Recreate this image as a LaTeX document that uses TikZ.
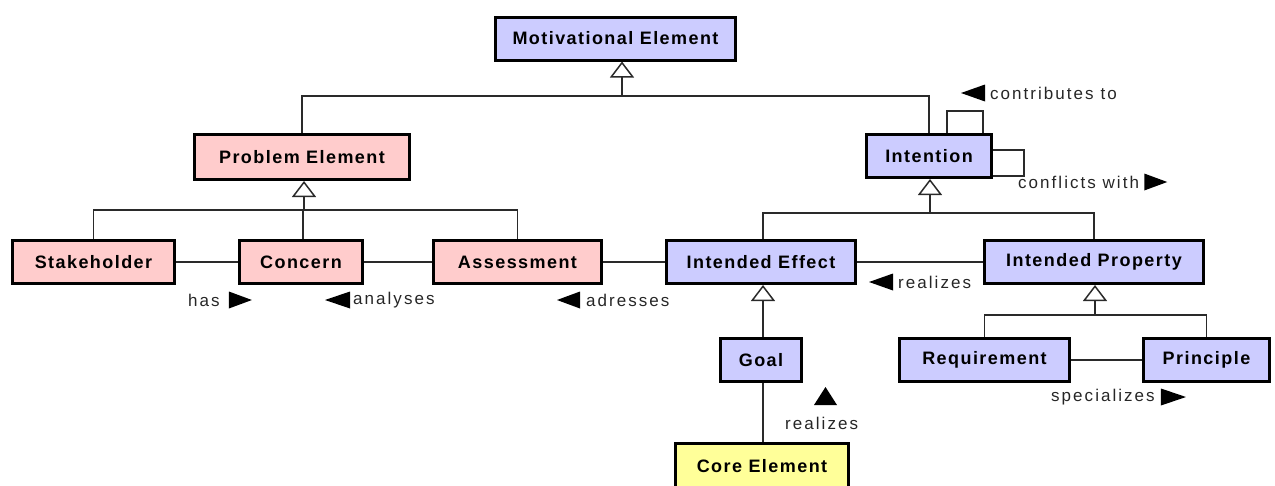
\documentclass[tikz,border=0pt]{standalone}
\usepackage{fontspec}
\setmainfont{Liberation Sans}
\newfontfamily\boxfont[LetterSpace=8]{Liberation Sans}
\newfontfamily\lblfont[LetterSpace=12]{Liberation Sans}
\usetikzlibrary{arrows.meta}
\definecolor{pinkfill}{HTML}{FFCCCC}
\definecolor{bluefill}{HTML}{CCCCFF}
\definecolor{yellowfill}{HTML}{FFFF99}
\definecolor{linegray}{HTML}{2A2A2A}
\begin{document}
\begin{tikzpicture}[x=1pt,y=-1pt,
  box/.style={draw=black, line width=3pt, inner sep=0pt, minimum height=43pt,
    font=\boxfont\bfseries\fontsize{18}{20}\selectfont},
  problem/.style={box, fill=pinkfill},
  motive/.style={box, fill=bluefill},
  core/.style={box, fill=yellowfill},
  link/.style={draw=linegray, line width=1.5pt},
  gen/.style={link, -{Triangle[open, length=16pt, width=24pt, line width=1.5pt]}},
  lbl/.style={font=\lblfont\fontsize{17}{19}\selectfont, inner sep=0pt, text=black!85},
  dirmark/.style={fill=black}
]
\useasboundingbox (0,0) rectangle (1275,485);

% classes
\node[motive, minimum width=240pt] (mot) at (615.5,38.5) {Motivational Element};
\node[problem, minimum width=215pt, minimum height=45pt] (prob) at (302,157) {Problem Element};
\node[motive, minimum width=125pt] (intn) at (929,156) {Intention};
\node[problem, minimum width=162pt] (stake) at (93.5,262) {Stakeholder};
\node[problem, minimum width=123pt] (conc) at (301,262) {Concern};
\node[problem, minimum width=168pt] (assess) at (517.5,262) {Assessment};
\node[motive, minimum width=189pt] (ieff) at (761,262) {Intended Effect};
\node[motive, minimum width=219pt] (iprop) at (1094,262) {Intended Property};
\node[motive, minimum width=81pt] (goal) at (761,360) {Goal};
\node[core, minimum width=173pt, minimum height=46pt] (core) at (762,466) {Core Element};
\node[motive, minimum width=170pt] (req) at (984.5,360) {Requirement};
\node[motive, minimum width=126pt] (prin) at (1206.5,360) {Principle};

% generalization: Motivational Element
\coordinate (barM) at (622,96);
\draw[link] (prob.north) |- (barM) -| (intn.north);
\draw[gen] (barM) -- (barM |- mot.south);

% self associations of Intention
\draw[link] ([xshift=18pt]intn.north) -- ++(0,-22) -| ([xshift=54pt]intn.north);
\draw[link] ([yshift=6pt]intn.east) -- ++(31,0) |- ([yshift=-20pt]intn.east);

% generalization: Problem Element
\coordinate (barP) at (304,210);
\draw[link] (stake.north) |- (barP) -| (assess.north);
\draw[link] ([xshift=2pt]conc.north) -- ([xshift=2pt]conc.north |- barP);
\draw[gen] (barP) -- (barP |- prob.south);

% generalization: Intention
\coordinate (barI) at (930,213);
\draw[link] ([xshift=2pt]ieff.north) |- (barI) -| (iprop.north);
\draw[gen] (barI) -- (barI |- intn.south);

% generalization: Intended Effect
\draw[gen] ([xshift=2pt]goal.north) -- ([xshift=2pt]ieff.south);
\draw[link] ([xshift=2pt]goal.south) -- ([xshift=2pt]goal.south |- core.north);

% generalization: Intended Property
\coordinate (barR) at (1095,315);
\draw[link] (req.north) |- (barR) -| (prin.north);
\draw[gen] (barR) -- (barR |- iprop.south);

% associations
\draw[link] (stake) -- (conc);
\draw[link] (conc) -- (assess);
\draw[link] (assess) -- (ieff);
\draw[link] (ieff) -- (iprop);
\draw[link] (req) -- (prin);

% association labels with direction marks
\node[lbl, anchor=west] (lContrib) at (990,93) {contributes to};
\fill[dirmark] ([xshift=-29pt]lContrib.west) -- ++(24,-8.5) -- ++(0,17) -- cycle;

\node[lbl, anchor=west] (lConf) at (1018,182) {conflicts with};
\fill[dirmark] ([xshift=5pt]lConf.east) ++(0,-8.5) -- ++(0,17) -- ++(23,-8.5) -- cycle;

\node[lbl, anchor=west] (lHas) at (188,300) {has};
\fill[dirmark] ([xshift=9pt]lHas.east) ++(0,-8.5) -- ++(0,17) -- ++(23,-8.5) -- cycle;

\node[lbl, anchor=west] (lAnal) at (353,300) {analyses};
\fill[dirmark] ([xshift=-28pt]lAnal.west) -- ++(25,-8.5) -- ++(0,17) -- cycle;

\node[lbl, anchor=west] (lAdr) at (586,300) {adresses};
\fill[dirmark] ([xshift=-29pt]lAdr.west) -- ++(23,-8.5) -- ++(0,17) -- cycle;

\node[lbl, anchor=west] (lReal) at (898,282) {realizes};
\fill[dirmark] ([xshift=-29pt]lReal.west) -- ++(24,-8.5) -- ++(0,17) -- cycle;

\node[lbl, anchor=west] (lRealG) at (785,423) {realizes};
\fill[dirmark] (825.5,387) -- (837,405) -- (814,405) -- cycle;

\node[lbl, anchor=west] (lSpec) at (1051,397) {specializes};
\fill[dirmark] ([xshift=6pt]lSpec.east) ++(0,-8.5) -- ++(0,17) -- ++(25,-8.5) -- cycle;
\end{tikzpicture}
\end{document}
